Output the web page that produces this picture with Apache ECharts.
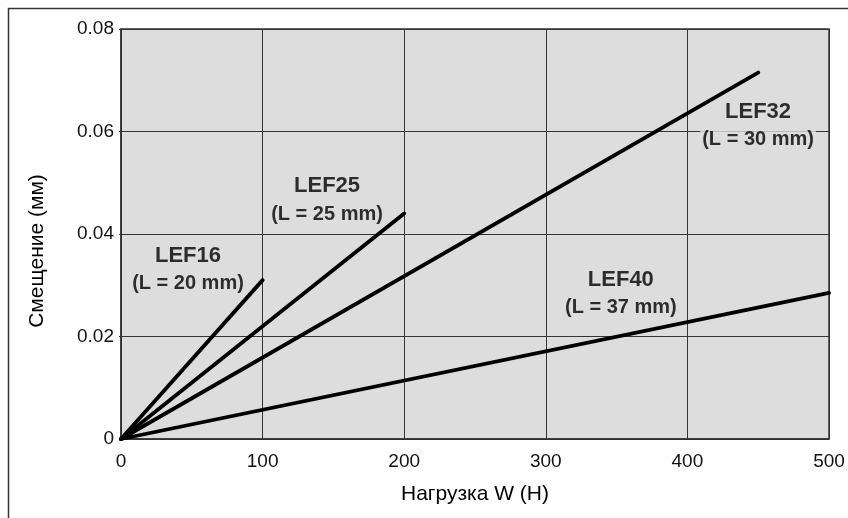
<!DOCTYPE html>
<html>
<head>
<meta charset="utf-8">
<script src="https://cdn.jsdelivr.net/npm/echarts@6/dist/echarts.min.js"></script>
<style>
  html, body { margin: 0; padding: 0; background: #ffffff; }
  #chart { width: 848px; height: 518px; }
</style>
</head>
<body>
<div id="chart"></div>
<script>
// Deflection vs. load for each guide size (straight lines from the origin)
var seriesNames = ['LEF16', 'LEF25', 'LEF32', 'LEF40'];
var strokeLengths = ['L = 20 mm', 'L = 25 mm', 'L = 30 mm', 'L = 37 mm'];
var loadEnd = [100, 200, 450, 500];            // W, N
var deflectionEnd = [0.031, 0.044, 0.0715, 0.0285]; // mm

// Where each size caption sits, in data units [load, deflection]
var captionAt = [
  [47.3, 0.0330],
  [145.5, 0.0466],
  [449.9, 0.0611],
  [353.0, 0.0283]
];

var xTicks = [0, 100, 200, 300, 400, 500];
var yTicks = [0, 0.02, 0.04, 0.06, 0.08];

var FONT = "'Liberation Sans', Arial, Helvetica, sans-serif";
var PANEL = '#dddddd';
var INK = '#333333';

var chart = echarts.init(document.getElementById('chart'), null, { renderer: 'canvas' });

var lineSeries = seriesNames.map(function (name, i) {
  return {
    name: name,
    type: 'line',
    data: [[0, 0], [loadEnd[i], deflectionEnd[i]]],
    symbol: 'none',
    lineStyle: { color: '#000000', width: 3.8, cap: 'round' },
    z: 3,
    silent: true,
    animation: false
  };
});

var captionSeries = {
  type: 'scatter',
  symbolSize: 0,
  z: 5,
  silent: true,
  animation: false,
  data: captionAt.map(function (p, i) {
    return { value: p, name: seriesNames[i], stroke: strokeLengths[i] };
  }),
  label: {
    show: true,
    position: 'inside',
    align: 'center',
    verticalAlign: 'middle',
    formatter: function (p) {
      return '{a|' + p.data.name + '}\n{b|(' + p.data.stroke + ')}';
    },
    rich: {
      a: { fontFamily: FONT, fontSize: 22, fontWeight: 'bold', color: '#000', lineHeight: 28, align: 'center' },
      b: { fontFamily: FONT, fontSize: 20, fontWeight: 'bold', color: '#000', lineHeight: 28, align: 'center',
           backgroundColor: PANEL, padding: [0, 2] }
    }
  }
};

chart.setOption({
  animation: false,
  backgroundColor: '#ffffff',
  graphic: [{
    type: 'rect',
    shape: { x: 8.5, y: 8.5, width: 1000, height: 1000 },
    style: { fill: 'none', stroke: INK, lineWidth: 1.5 },
    silent: true,
    z: -10
  }],
  grid: {
    left: 121, top: 29, width: 708, height: 410,
    show: true,
    backgroundColor: PANEL,
    borderColor: INK,
    borderWidth: 1.5
  },
  xAxis: {
    type: 'value',
    min: xTicks[0], max: xTicks[xTicks.length - 1], interval: 100,
    name: 'Нагрузка W (Н)',
    nameLocation: 'middle',
    nameGap: 45,
    nameTextStyle: { fontFamily: FONT, fontSize: 21, color: '#000' },
    axisLine: { lineStyle: { color: INK, width: 1.5 } },
    axisTick: { show: false },
    axisLabel: { fontFamily: FONT, fontSize: 19, color: '#111', margin: 13 },
    splitLine: { show: true, lineStyle: { color: INK, width: 1 } }
  },
  yAxis: {
    type: 'value',
    min: yTicks[0], max: yTicks[yTicks.length - 1], interval: 0.02,
    name: 'Смещение (мм)',
    nameLocation: 'middle',
    nameRotate: 90,
    nameGap: 73,
    nameTextStyle: { fontFamily: FONT, fontSize: 21, color: '#000', padding: [0, 34, 0, 0] },
    axisLine: { lineStyle: { color: INK, width: 1.5 } },
    axisTick: { show: true, length: 2, lineStyle: { color: INK } },
    axisLabel: {
      fontFamily: FONT, fontSize: 19, color: '#111', margin: 7,
      formatter: function (v) { return v === 0 ? '0' : v.toFixed(2); }
    },
    splitLine: { show: true, lineStyle: { color: INK, width: 1 } }
  },
  series: lineSeries.concat([captionSeries])
});
</script>
</body>
</html>
